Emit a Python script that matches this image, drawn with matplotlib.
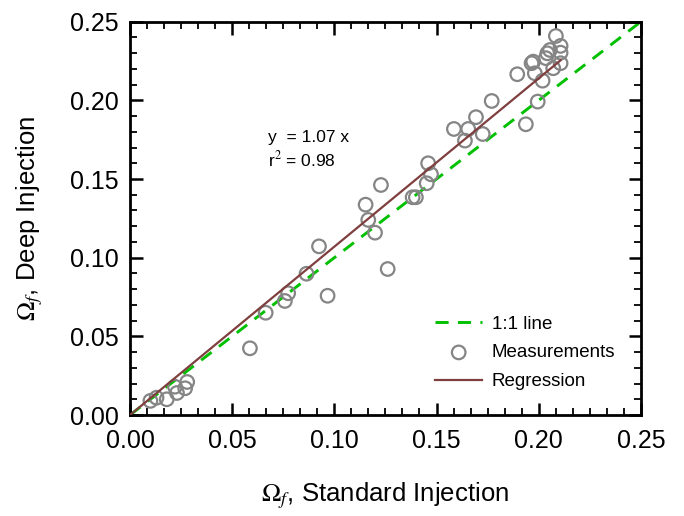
import matplotlib
matplotlib.use("Agg")
import matplotlib.pyplot as plt
from matplotlib.ticker import MultipleLocator, FormatStrFormatter

plt.rcParams['font.family'] = ['Liberation Sans', 'DejaVu Sans']
plt.rcParams['mathtext.fontset'] = 'stix'

# Measurements (standard injection, deep injection)
std_inj = [0.010, 0.013, 0.018, 0.023, 0.027, 0.028, 0.022,
           0.1228, 0.1153, 0.1166, 0.1199, 0.0925, 0.1261, 0.0864, 0.0774,
           0.0758, 0.0967, 0.0664, 0.0587,
           0.1693, 0.1585, 0.1655, 0.1726, 0.1639, 0.1459, 0.1473, 0.1452,
           0.1383, 0.1399,
           0.2084, 0.2107, 0.2055, 0.2107, 0.2042, 0.2035, 0.1973, 0.1965,
           0.2107, 0.2071, 0.1981, 0.1895, 0.2019, 0.1770, 0.1995, 0.1937]
deep_inj = [0.009, 0.011, 0.010, 0.014, 0.017, 0.021, 0.018,
            0.1462, 0.1337, 0.1240, 0.1159, 0.1072, 0.0928, 0.0898, 0.0774,
            0.0725, 0.0758, 0.0650, 0.0424,
            0.1893, 0.1818, 0.1818, 0.1786, 0.1744, 0.1600, 0.1530, 0.1473,
            0.1384, 0.1384,
            0.2409, 0.2346, 0.2320, 0.2303, 0.2299, 0.2268, 0.2246, 0.2236,
            0.2236, 0.2204, 0.2172, 0.2166, 0.2125, 0.1996, 0.1992, 0.1848]

one_to_one_x = [0.0, 0.25]
slope = 1.07
r2 = 0.98
reg_x = [0.0, 0.2107]

fig = plt.figure(figsize=(6.84, 5.16), dpi=100)
ax = fig.add_axes([0.190, 0.1957, 0.747, 0.7623])

ax.plot(one_to_one_x, one_to_one_x, color='#00c000', lw=2.1, ls=(0, (4.5, 3.2)),
        label='1:1 line', zorder=2)
ax.scatter(std_inj, deep_inj, s=95, facecolors='none', edgecolors='#858585',
           linewidths=1.6, label='Measurements', zorder=3)
ax.plot(reg_x, [slope * v for v in reg_x], color='#7f3f3f', lw=1.6,
        label='Regression', zorder=4)

ax.set_xlim(0, 0.25)
ax.set_ylim(0, 0.25)
ax.xaxis.set_major_locator(MultipleLocator(0.05))
ax.xaxis.set_minor_locator(MultipleLocator(0.05 / 6))
ax.yaxis.set_major_locator(MultipleLocator(0.05))
ax.yaxis.set_minor_locator(MultipleLocator(0.01))
ax.xaxis.set_major_formatter(FormatStrFormatter('%.2f'))
ax.yaxis.set_major_formatter(FormatStrFormatter('%.2f'))

ax.tick_params(which='both', direction='in', top=True, right=True)
ax.tick_params(which='major', length=9, width=1.8, labelsize=18, pad=8)
ax.tick_params(which='minor', length=5, width=1.3)
ax.tick_params(axis='x', which='major', pad=10)
for s in ax.spines.values():
    s.set_linewidth(2.0)

ax.set_xlabel(r'$\Omega_f$, Standard Injection', fontsize=18.5, labelpad=20)
ax.set_ylabel(r'$\Omega_f$, Deep Injection', fontsize=18.5, labelpad=18)

ax.text((268 - 130) / 511, (415 - 137.5) / 393.3, 'y  = %.2f x' % slope,
        transform=ax.transAxes, fontsize=12.5, va='center', ha='left')
ax.text((268 - 130) / 511, (415 - 159) / 393.3, r'r$^2$ = %.2f' % r2,
        transform=ax.transAxes, fontsize=12.5, va='center', ha='left')

leg = ax.legend(loc='lower right', frameon=False, fontsize=13.5,
                handlelength=2.5, labelspacing=0.62, handletextpad=0.5,
                borderpad=0.2, bbox_to_anchor=(0.975, 0.03))

fig.savefig('out.png', dpi=100)
